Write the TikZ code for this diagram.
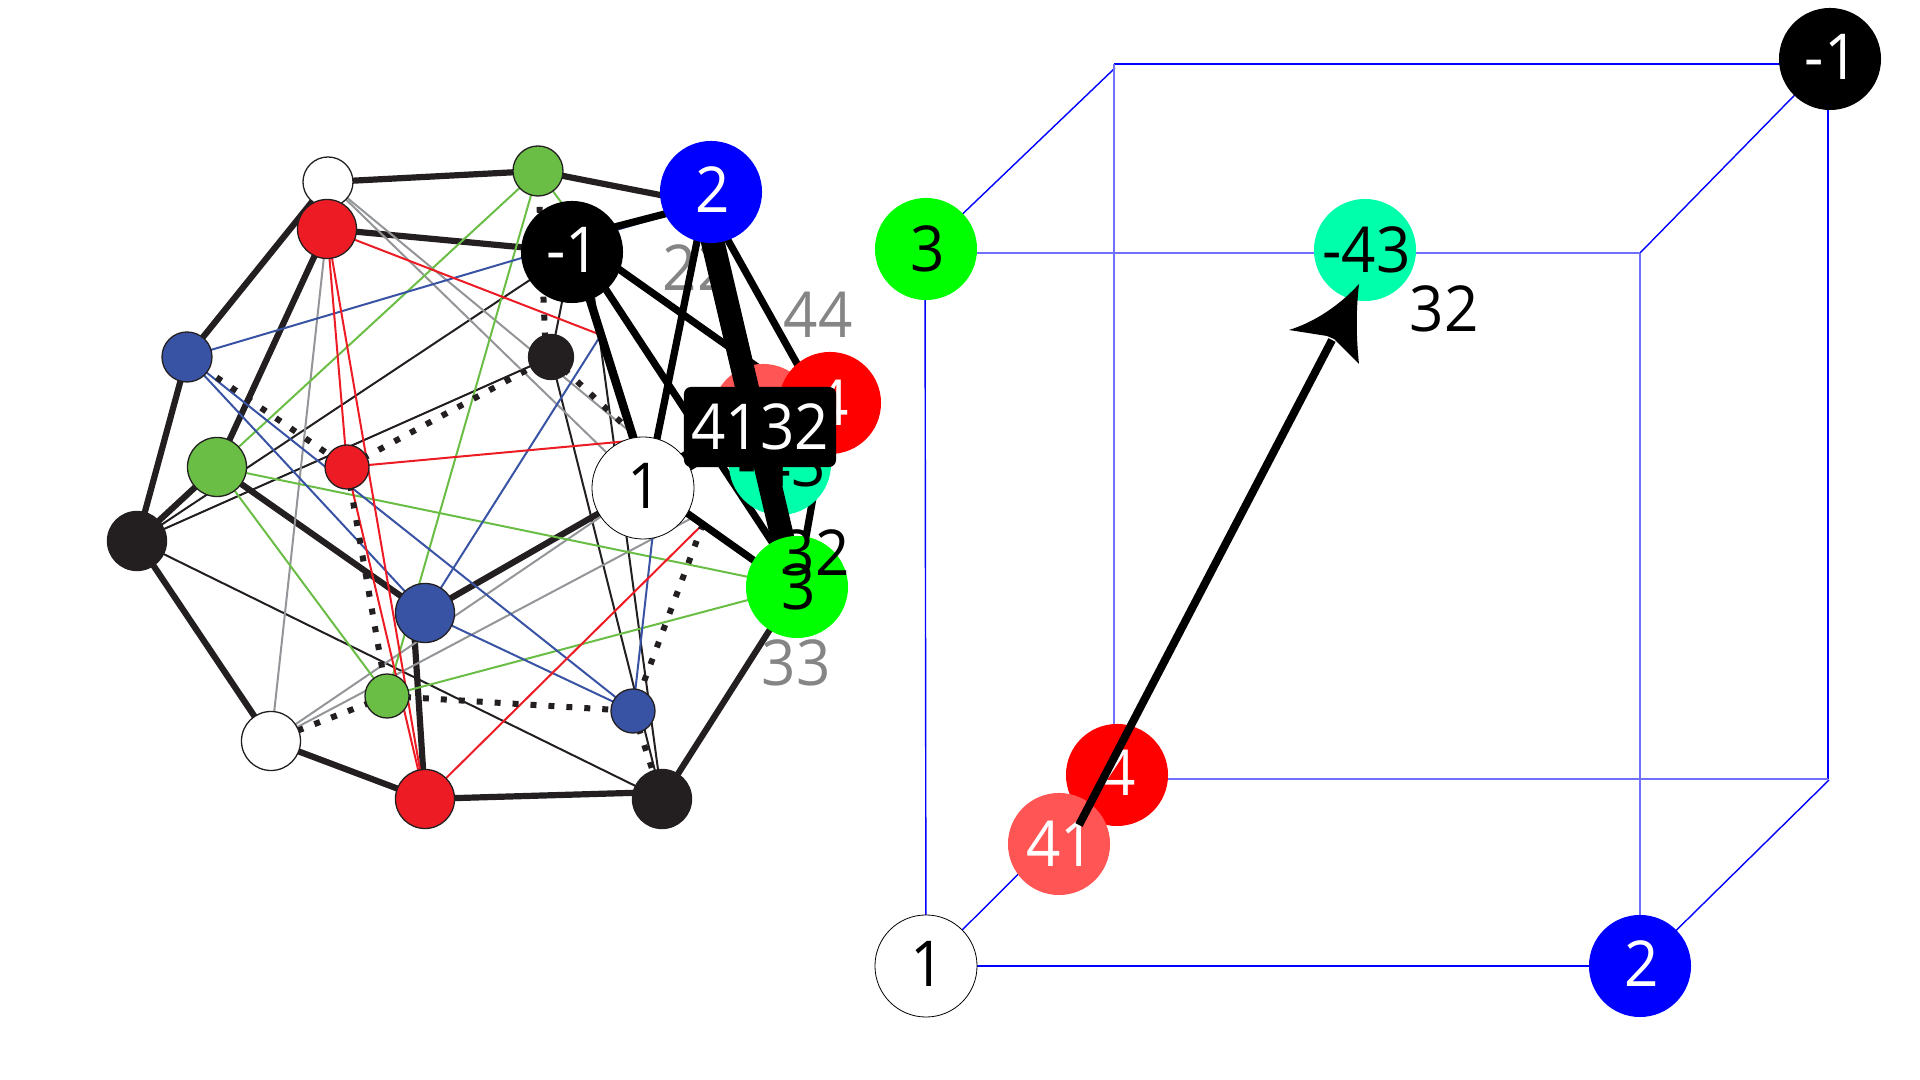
\documentclass[tikz,border=0pt]{standalone}
\usepackage{fontspec}
\setmainfont{Open Sans}[FakeStretch=0.95]
\definecolor{sred}{HTML}{ED1C24}
\definecolor{sgreen}{HTML}{6ABD45}
\definecolor{sblue}{HTML}{3953A4}
\definecolor{sdark}{HTML}{231F20}
\definecolor{sgray}{HTML}{939598}
\definecolor{labgray}{HTML}{858585}
\definecolor{teal43}{HTML}{00FFAA}
\definecolor{lred}{HTML}{FF5555}
\definecolor{lblue}{HTML}{7070FF}
\pgfdeclarelayer{e1}\pgfdeclarelayer{n1}\pgfdeclarelayer{lab}\pgfdeclarelayer{e2}
\pgfdeclarelayer{nt}\pgfdeclarelayer{e3}\pgfdeclarelayer{n3}
\pgfsetlayers{e1,n1,lab,e2,nt,e3,n3,main}
\tikzset{
  snode/.style={circle,draw=sdark,line width=0.013cm,inner sep=0pt,outer sep=0pt,minimum size=#1},
  bignode/.style={circle,inner sep=0pt,outer sep=0pt,minimum size=1.02cm,
     font=\fontsize{18}{20}\selectfont,text height=0.45cm,text depth=0cm,
     execute at begin node={\hspace*{0.03cm}}},
  raised/.style={text depth=0.04cm},
  graylab/.style={text=labgray,inner sep=0pt,font=\fontsize{18}{20}\selectfont},
  blacklab/.style={text=black,inner sep=0pt,font=\fontsize{18}{20}\selectfont},
  thickE/.style={sdark,line width=0.062cm},
  thin/.style={line width=0.02cm},
  dotE/.style={sdark,line width=0.06cm,dash pattern=on 1.7pt off 3.41pt},
  bigE/.style={black,line width=0.072cm},
  cubeE/.style={blue,line width=0.014cm},
  cubeL/.style={lblue,line width=0.02cm},
}
\begin{document}
\begin{tikzpicture}[x=0.01cm,y=-0.01cm]
\useasboundingbox (0,0) rectangle (1920,1080);
% hidden vertices
\coordinate (hu) at (640,440);
\coordinate (hv) at (703,524);
\coordinate (hw) at (690,519);
\coordinate (hy) at (601,335);
\coordinate (bTL) at (1114,64);
\coordinate (bDg) at (1115,68);
\coordinate (bBL) at (1114,779);
\coordinate (bBR) at (1828,779);
\coordinate (bBD) at (1829,780);
\coordinate (cTR) at (1640,253);
% small nodes
\begin{pgfonlayer}{n1}
\node[snode=0.5cm,fill=white]  (W1) at (328,182) {};
\node[snode=0.59cm,fill=sred]  (R1) at (327,229) {};
\node[snode=0.5cm,fill=sblue]  (B1) at (187,357) {};
\node[snode=0.59cm,fill=sgreen](G1) at (217,467) {};
\node[snode=0.44cm,fill=sred]  (R2) at (347,467) {};
\node[snode=0.5cm,fill=sgreen] (G2) at (538,171) {};
\node[snode=0.45cm,fill=sdark] (D1) at (551,357) {};
\node[snode=0.59cm,fill=sdark] (D2) at (137,541) {};
\node[snode=0.59cm,fill=sblue] (B2) at (425,613) {};
\node[snode=0.44cm,fill=sgreen](G3) at (387,696) {};
\node[snode=0.59cm,fill=white] (W2) at (271,741) {};
\node[snode=0.59cm,fill=sred]  (R3) at (425,799) {};
\node[snode=0.44cm,fill=sblue] (B3) at (633,711) {};
\node[snode=0.59cm,fill=sdark] (D3) at (662,799) {};
\end{pgfonlayer}
% gray labels
\begin{pgfonlayer}{lab}
\node[graylab] (l22) at (697,268) {22};
\node[graylab] (l44) at (818,315) {44};
\node[graylab] (l33) at (796,663) {33};
\end{pgfonlayer}
% big nodes of left figure
\begin{pgfonlayer}{nt}
\node[bignode,fill=lred,text=white] (m41) at (763,415) {41};
\node[bignode,fill=teal43,text=black] (m43) at (780,464) {-43};
\end{pgfonlayer}
\begin{pgfonlayer}{n3}
\node[bignode,raised,fill=black,text=white] (mm1) at (572,252) {-1};
\node[bignode,raised,fill=blue,text=white] (m2) at (711,192) {2};
\node[bignode,fill=red,text=white] (m4) at (830,403) {4};
\node[bignode,raised,fill=white,draw=black,line width=0.008cm,text=black] (m1) at (643,488) {1};
\node[bignode,fill=green,text=black] (m3) at (797,587) {3};
% right figure
\node[bignode,raised,fill=white,draw=black,line width=0.008cm,text=black] (r1) at (926,966) {1};
\node[bignode,raised,fill=blue,text=white] (r2) at (1640,966) {2};
\node[bignode,fill=green,text=black] (r3) at (926,249) {3};
\node[bignode,raised,fill=black,text=white] (rm1) at (1830,59) {-1};
\node[bignode,fill=teal43,text=black] (r43) at (1365,250) {-43};
\node[bignode,raised,fill=red,text=white] (r4) at (1117,775) {4};
\node[bignode,fill=lred,text=white] (r41) at (1059,844) {41};
\end{pgfonlayer}
% small graph edges
\begin{pgfonlayer}{e1}
\draw[thickE] (W1.center)--(G2.center);
\draw[thickE] (G2.center)--([shift={(0,13)}]m2.center);
\draw[thickE] (W1.center)--(B1.center);
\draw[thickE] (R1.center)--(mm1.center);
\draw[thickE] (R1.center)--(G1.center);
\draw[thickE] (B1.center)--(D2.center);
\draw[thickE] (D2.center)--(G1.center);
\draw[thickE] (G1.center)--(B2.center);
\draw[thickE] (B2.center)--(m1.center);
\draw[thickE] ([shift={(-12,0)}]B2.center)--(R3.center);
\draw[thickE] (R3.center)--([shift={(0,-7)}]D3.center);
\draw[thickE] (R3.center)--(W2.center);
\draw[thickE] (W2.center)--(D2.center);
\draw[thickE] (D3.center)--(m3.center);
% thin black
\draw[sdark,thin] (D2.center)--(mm1.center);
\draw[sdark,thin] (D2.center)--(D1.center);
\draw[sdark,thin] (D2.center)--(D3.center);
\draw[sdark,thin] (D1.center)--(D3.center);
\draw[sdark,thin] ([shift={(16,0)}]mm1.center)--(D3.center);
\draw[sdark,thin] (mm1.center)--(D1.center);
% gray
\draw[sgray,thin] (W1.center)--(hu);
\draw[sgray,thin] (W1.center)--(m1.center);
\draw[sgray,thin] (R1.center)--(W2.center);
\draw[sgray,thin] (W2.center)--(m1.center);
\draw[sgray,thin] (W2.center)--(hw);
% green
\draw[sgreen,thin] (G1.center)--(G2.center);
\draw[sgreen,thin] (G2.center)--(G3.center);
\draw[sgreen,thin] (G2.center)--([shift={(20,-8)}]mm1.center);
\draw[sgreen,thin] (G1.center)--(m3.center);
\draw[sgreen,thin] (G1.center)--(G3.center);
\draw[sgreen,thin] (G3.center)--(m3.center);
% blue
\draw[sblue,thin] (B1.center)--([shift={(0,10)}]m2.center);
\draw[sblue,thin] (B1.center)--(B3.center);
\draw[sblue,thin] (B1.center)--(B2.center);
\draw[sblue,thin] (B2.center)--(B3.center);
\draw[sblue,thin] (B2.center)--(hy);
\draw[sblue,thin] (B3.center)--([shift={(15,0)}]m1.center);
% red
\draw[sred,thin] (R1.center)--(R2.center);
\draw[sred,thin] (R1.center)--(R3.center);
\draw[sred,thin] (R2.center)--(R3.center);
\draw[sred,thin] (R2.center)--(hu);
\draw[sred,thin] (R1.center)--(hy);
\draw[sred,thin] (R3.center)--(hv);
% dotted
\draw[dotE] (G2.center)--([shift={(-5,0)}]D1.center);
\draw[dotE] (R2.center)--(D1.center);
\draw[dotE] (D1.center)--(hu);
\draw[dotE] (hv)--(B3.center);
\draw[dotE] (B3.center)--(D3.center);
\draw[dotE] (B1.center)--(R2.center);
\draw[dotE] (R2.center)--(G3.center);
\draw[dotE] (G3.center)--(W2.center);
\draw[dotE] (G3.center)--(B3.center);
% cube
\draw[cubeE] (r1.center)--(r2.center);
\draw[cubeE] (r1.center)--([shift={(-1,0)}]r3.center);
\draw[cubeE] (r1.center)--(bBL);
\draw[cubeE] (r3.center)--(bDg);
\draw[cubeE] (bTL)--([shift={(0,5)}]rm1.center);
\draw[cubeE] ([shift={(-2,0)}]rm1.center)--(bBR);
\draw[cubeE] (rm1.center)--(cTR);
\draw[cubeE] (r2.center)--(bBD);
\draw[cubeL] (bTL)--(bBL);
\draw[cubeL] (r3.center |- cTR)--(cTR);
\draw[cubeL] (cTR)--(r2.center);
\draw[cubeL] (bBL)--(bBR);
\end{pgfonlayer}
% big edges, under teal
\begin{pgfonlayer}{e2}
\draw[bigE] ([shift={(0,-14)}]mm1.center)--([shift={(0,10)}]m2.center);
\draw[bigE] ([shift={(0,-14)}]mm1.center)--([shift={(0,-7)}]m3.center);
\draw[bigE] ([shift={(0,-16)}]mm1.center)--([shift={(0,-44)}]m41.center);
\draw[bigE,line width=0.085cm] ([shift={(3,0)}]mm1.center)--([shift={(6,0)}]m1.center);
\draw[bigE] ([shift={(-4,0)}]m2.center)--([shift={(4,0)}]m1.center);
\draw[bigE] ([shift={(-10,0)}]m2.center)--([shift={(-11,0)}]m4.center);
\draw[bigE] (m4.center)--(m3.center);
\draw[bigE] ([shift={(0,-6)}]m1.center)--([shift={(0,4)}]m3.center);
\draw[bigE,line width=0.2cm] (m1.center)--(m41.center);
\end{pgfonlayer}
% the heavy edge, over 41 and -43
\begin{pgfonlayer}{e3}
\draw[black,line width=0.235cm] ([shift={(-10,0)}]m2.center)--([shift={(-3,0)}]m3.center);
\end{pgfonlayer}
% label of the heavy edge
\node[fill=black,rounded corners=0.07cm,minimum width=1.52cm,minimum height=0.8cm,inner sep=0pt,
      text=white,font=\fontsize{18}{20}\selectfont] (e4132) at (760,427) {4132};
\node[blacklab] (l32a) at (815,553) {32};
\node[blacklab] (l32b) at (1444,309) {32};
% arrow of the right figure
\coordinate (ashaftS) at ([shift={(20,-19)}]r41.center);
\coordinate (ashaftE) at ([shift={(-33,90)}]r43.center);
\coordinate (atip) at ([shift={(-6,34)}]r43.center);
\draw[black,line width=0.08cm] (ashaftS)--(ashaftE);
\fill[black] (atip) .. controls ([shift={(-19,21)}]atip) and ([shift={(-44,38)}]atip) .. ([shift={(-70,46)}]atip)
  -- ([shift={(-32,52)}]atip) -- ([shift={(-25,55)}]atip) -- ([shift={(0,80)}]atip)
  .. controls ([shift={(-3,52)}]atip) and ([shift={(-3,26)}]atip) .. (atip) -- cycle;
\end{tikzpicture}
\end{document}
